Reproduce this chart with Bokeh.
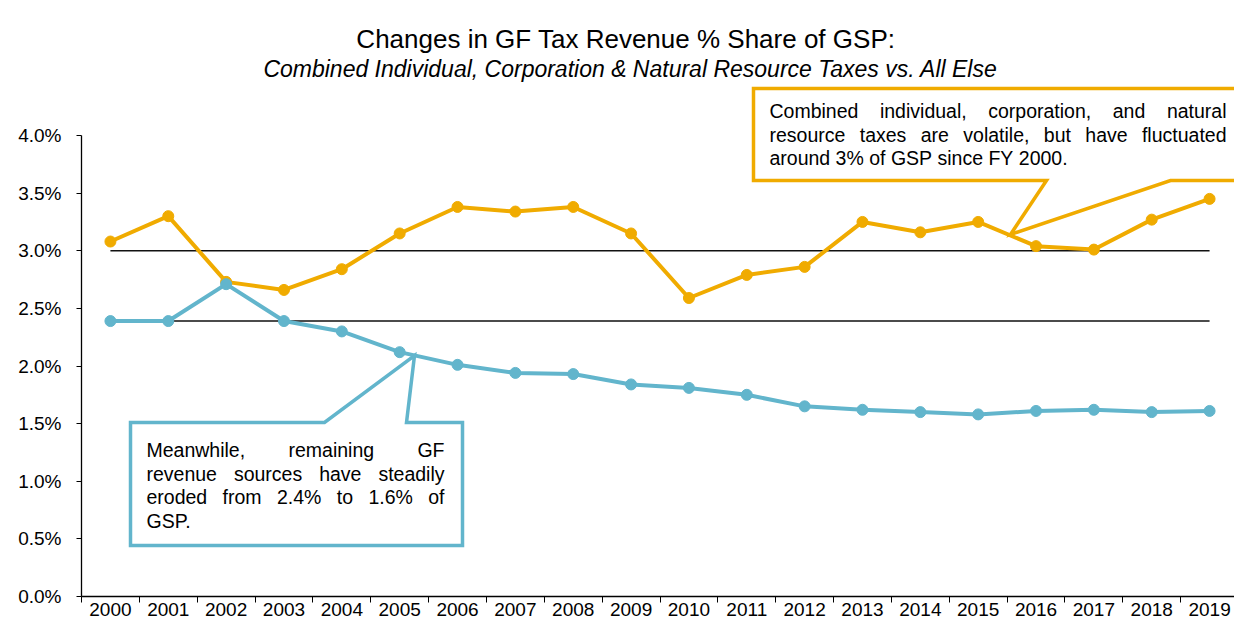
from bokeh.plotting import figure
from bokeh.models import Range1d, FixedTicker, PrintfTickFormatter
from bokeh.core.properties import value
from bokeh.embed import file_html
from bokeh.resources import INLINE

# ---------------- data ----------------
years = [str(y) for y in range(2000, 2020)]
big_three = [3.08, 3.30, 2.73, 2.66, 2.84, 3.15, 3.38, 3.34, 3.38, 3.15,
             2.59, 2.79, 2.86, 3.25, 3.16, 3.25, 3.04, 3.01, 3.27, 3.45]
all_else = [2.39, 2.39, 2.71, 2.39, 2.30, 2.12, 2.01, 1.94, 1.93, 1.84,
            1.81, 1.75, 1.65, 1.62, 1.60, 1.58, 1.61, 1.62, 1.60, 1.61]
big_three_ref = 3.0
all_else_ref = 2.39
y_ticks = [0.0, 0.5, 1.0, 1.5, 2.0, 2.5, 3.0, 3.5, 4.0]

title_text = "Changes in GF Tax Revenue  % Share of GSP:"
subtitle_text = "Combined Individual, Corporation & Natural Resource Taxes vs. All Else"
orange_note = ["Combined individual, corporation, and natural",
               "resource taxes are volatile, but have fluctuated",
               "around 3% of GSP since FY 2000."]
blue_note = ["Meanwhile, remaining GF",
             "revenue sources have steadily",
             "eroded from 2.4% to 1.6% of",
             "GSP."]

ORANGE = "#F0AB00"
BLUE = "#62B5CC"
FONT = "Liberation Sans"

# ---------------- layout helpers (canvas pixel -> data) ----------------
PX_PER_X = 57.85
FRAME_LEFT = 81
X0_PX = FRAME_LEFT + 0.5 * PX_PER_X
PX_PER_Y = 115.25
Y0_PX = 596.0
CANVAS_W, CANVAS_H = 1234, 625


def px2x(px):
    return (px - X0_PX) / PX_PER_X


def py2y(py):
    return (Y0_PX - py) / PX_PER_Y


# Arial / Liberation Sans advance widths (per 1000 em)
W = {' ': 278, ',': 278, '.': 278, '%': 889, '&': 667, ':': 278,
     '0': 556, '1': 556, '2': 556, '3': 556, '4': 556, '5': 556, '6': 556, '7': 556, '8': 556, '9': 556,
     'A': 667, 'B': 667, 'C': 722, 'D': 722, 'E': 667, 'F': 611, 'G': 778, 'H': 722, 'I': 278,
     'M': 833, 'N': 722, 'P': 667, 'R': 722, 'S': 667, 'T': 611, 'Y': 667,
     'a': 556, 'b': 556, 'c': 500, 'd': 556, 'e': 556, 'f': 278, 'g': 556, 'h': 556, 'i': 222,
     'j': 222, 'k': 500, 'l': 222, 'm': 833, 'n': 556, 'o': 556, 'p': 556, 'q': 556, 'r': 333,
     's': 500, 't': 278, 'u': 556, 'v': 500, 'w': 722, 'x': 500, 'y': 500, 'z': 500}


def tw(s, fs):
    return sum(W.get(c, 556) for c in s) * fs / 1000.0


# ---------------- figure ----------------
p = figure(width=CANVAS_W, height=CANVAS_H,
           x_range=Range1d(-0.5, -0.5 + (CANVAS_W - FRAME_LEFT) / PX_PER_X),
           y_range=Range1d(0, Y0_PX / PX_PER_Y),
           min_border_left=FRAME_LEFT, min_border_right=0,
           min_border_top=0, min_border_bottom=int(CANVAS_H - Y0_PX),
           toolbar_location=None, output_backend="svg")
p.outline_line_color = None
p.xgrid.visible = False
p.ygrid.visible = False
p.background_fill_color = "white"
p.border_fill_color = "white"

idx = list(range(len(years)))

# axes
p.xaxis.ticker = FixedTicker(ticks=idx, minor_ticks=[i - 0.5 for i in range(len(years) + 1)])
p.xaxis.major_label_overrides = {i: y for i, y in enumerate(years)}
p.xaxis.major_tick_out = 0
p.xaxis.major_tick_in = 0
p.xaxis.minor_tick_out = 6
p.xaxis.minor_tick_in = 0
p.xaxis.minor_tick_line_color = "black"
p.xaxis.major_label_standoff = 0
p.xaxis.major_label_text_font_size = "19px"

p.yaxis.ticker = FixedTicker(ticks=y_ticks)
p.yaxis.formatter = PrintfTickFormatter(format="%.1f%%")
p.yaxis.bounds = (0, 4.0)
p.yaxis.major_tick_out = 5
p.yaxis.major_tick_in = 0
p.yaxis.minor_tick_line_color = None
p.yaxis.major_label_standoff = 15
p.yaxis.major_label_text_font_size = "19px"

for ax in (p.xaxis, p.yaxis):
    ax.axis_line_color = "black"
    ax.axis_line_width = 1.3
    ax.major_tick_line_color = "black"
    ax.major_label_text_font = FONT
    ax.major_label_text_color = "black"

# callout shapes
orange_box = [(753, 88), (1262, 88), (1262, 180), (1170, 180), (1010, 234), (1046, 180), (753, 180)]
blue_box = [(130, 422), (324, 422), (414, 355), (406, 422), (462, 422), (462, 545), (130, 545)]
for shape, col in ((orange_box, ORANGE), (blue_box, BLUE)):
    p.patch([px2x(a) for a, b in shape], [py2y(b) for a, b in shape],
            fill_color="white", line_color=col, line_width=3.5, line_join="miter")

# reference lines
p.line(idx, [big_three_ref] * len(idx), line_color="#111111", line_width=1.5)
p.line(idx, [all_else_ref] * len(idx), line_color="#111111", line_width=1.5)

# series
p.line(idx, big_three, line_color=ORANGE, line_width=4)
p.scatter(idx, big_three, size=11, fill_color=ORANGE, line_color=ORANGE)
p.line(idx, all_else, line_color=BLUE, line_width=4)
p.scatter(idx, all_else, size=11, fill_color=BLUE, line_color=BLUE)


# justified paragraphs (y = visual middle of each line)
def put_para(lines, left, right, mids, fs):
    xs, ys, ts = [], [], []
    for k, (line, mid) in enumerate(zip(lines, mids)):
        words = line.split()
        widths = [tw(w, fs) for w in words]
        if k == len(lines) - 1 or len(words) == 1:
            gap = tw(" ", fs)
        else:
            gap = (right - left - sum(widths)) / (len(words) - 1)
        cx = left
        for w, wd in zip(words, widths):
            xs.append(px2x(cx))
            ys.append(py2y(mid))
            ts.append(w)
            cx += wd + gap
    p.text(xs, ys, text=ts, text_font=value(FONT), text_font_size=value("%gpx" % fs),
           text_align="left", text_baseline="middle", text_color="black")


put_para(orange_note, 769, 1226, [110.2, 134.2, 157.7], 19.5)
put_para(blue_note, 146, 444, [449.2, 473.2, 496.7, 520.2], 19.5)

# titles
p.text([px2x(629)], [py2y(38.5)], text=[title_text], text_font=value(FONT),
       text_font_size=value("26px"), text_align="center", text_baseline="middle",
       text_color="black")
p.text([px2x(630)], [py2y(68)], text=[subtitle_text], text_font=value(FONT),
       text_font_size=value("23px"), text_font_style="italic", text_align="center",
       text_baseline="middle", text_color="black")

open("out.html", "w").write(file_html(p, INLINE))
